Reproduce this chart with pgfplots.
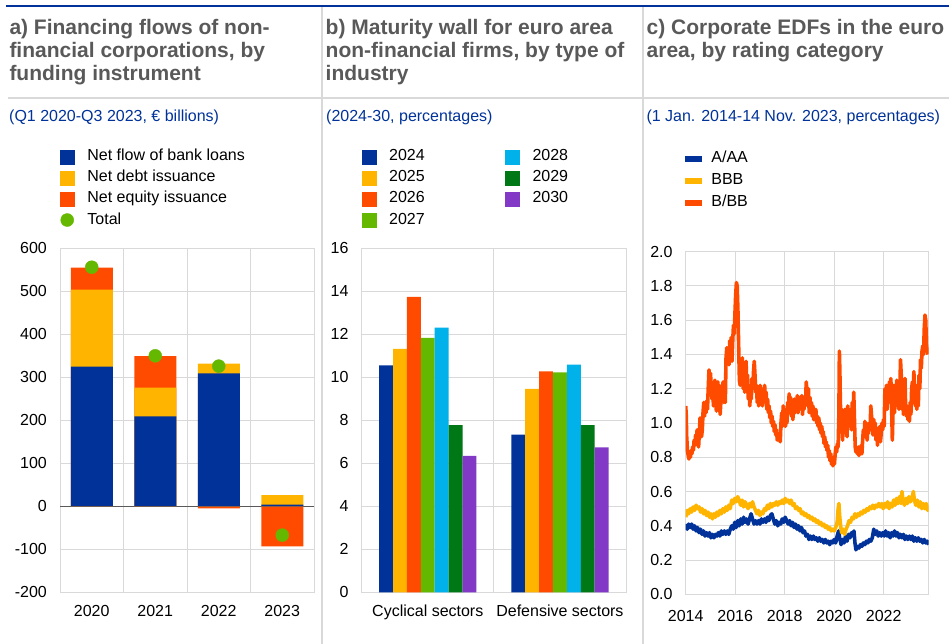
\documentclass[border=0pt]{standalone}
\usepackage{pgfplots}
\pgfplotsset{compat=1.18}
\usepackage{pgfplotstable}
\usepackage{fontspec}
\setmainfont{Liberation Sans}

\definecolor{ecbblue}{HTML}{003299}
\definecolor{ecbyellow}{HTML}{FFB400}
\definecolor{ecbred}{HTML}{FF4B00}
\definecolor{ecbgreen}{HTML}{65B800}
\definecolor{ecbcyan}{HTML}{00B1EA}
\definecolor{ecbdkgreen}{HTML}{007816}
\definecolor{ecbpurple}{HTML}{8139C6}
\definecolor{gridgray}{HTML}{D9D9D9}
\definecolor{titlegray}{HTML}{595959}
\definecolor{zerogray}{HTML}{595959}

\pgfplotstableread{
x y
2014.00 1.10
2014.02 1.05
2014.04 0.92
2014.07 0.84
2014.10 0.81
2014.13 0.79
2014.16 0.82
2014.19 0.80
2014.22 0.84
2014.25 0.82
2014.28 0.86
2014.31 0.84
2014.34 0.90
2014.37 0.87
2014.40 0.93
2014.43 0.88
2014.46 0.96
2014.49 0.90
2014.52 0.86
2014.55 0.94
2014.58 1.03
2014.61 0.97
2014.64 0.92
2014.67 0.96
2014.70 1.06
2014.73 1.12
2014.76 1.04
2014.79 1.10
2014.82 1.06
2014.85 1.13
2014.88 1.08
2014.91 1.20
2014.94 1.31
2014.97 1.27
2015.00 1.29
2015.03 1.22
2015.06 1.14
2015.09 1.22
2015.12 1.10
2015.15 1.18
2015.18 1.25
2015.21 1.12
2015.24 1.07
2015.27 1.18
2015.30 1.24
2015.33 1.10
2015.36 1.20
2015.39 1.05
2015.42 1.12
2015.45 1.22
2015.48 1.14
2015.51 1.24
2015.54 1.12
2015.57 1.18
2015.60 1.12
2015.63 1.38
2015.66 1.44
2015.69 1.36
2015.72 1.42
2015.75 1.34
2015.78 1.48
2015.81 1.40
2015.84 1.50
2015.87 1.36
2015.90 1.48
2015.93 1.57
2015.96 1.52
2015.99 1.64
2016.02 1.75
2016.05 1.82
2016.08 1.80
2016.11 1.66
2016.14 1.45
2016.17 1.25
2016.20 1.22
2016.23 1.36
2016.26 1.28
2016.29 1.38
2016.32 1.20
2016.35 1.34
2016.38 1.18
2016.41 1.30
2016.44 1.36
2016.47 1.18
2016.50 1.28
2016.53 1.14
2016.56 1.22
2016.59 1.10
2016.62 1.20
2016.65 1.14
2016.68 1.26
2016.71 1.20
2016.74 1.30
2016.77 1.36
2016.80 1.28
2016.83 1.18
2016.86 1.22
2016.89 1.12
2016.92 1.20
2016.95 1.10
2016.98 1.16
2017.01 1.22
2017.04 1.12
2017.07 1.18
2017.10 1.10
2017.13 1.20
2017.16 1.14
2017.19 1.22
2017.22 1.12
2017.25 1.18
2017.28 1.08
2017.31 1.14
2017.34 1.06
2017.37 1.10
2017.40 1.03
2017.43 1.07
2017.46 1.00
2017.49 1.04
2017.52 0.98
2017.55 1.01
2017.58 0.95
2017.61 0.99
2017.64 0.93
2017.67 0.96
2017.70 0.90
2017.73 0.93
2017.76 0.90
2017.79 0.92
2017.82 0.89
2017.85 1.00
2017.88 1.06
2017.91 0.98
2017.94 1.10
2017.97 1.02
2018.00 1.08
2018.03 0.98
2018.06 1.06
2018.09 1.00
2018.12 1.12
2018.15 1.08
2018.18 1.17
2018.21 1.10
2018.24 1.15
2018.27 1.04
2018.30 1.12
2018.33 1.02
2018.36 1.10
2018.39 1.14
2018.42 1.06
2018.45 1.12
2018.48 1.08
2018.51 1.16
2018.54 1.06
2018.57 1.12
2018.60 1.08
2018.63 1.15
2018.66 1.10
2018.69 1.16
2018.72 1.05
2018.75 1.12
2018.78 1.08
2018.81 1.14
2018.84 1.10
2018.87 1.24
2018.90 1.18
2018.93 1.12
2018.96 1.20
2018.99 1.06
2019.02 1.15
2019.05 1.08
2019.08 1.12
2019.11 1.04
2019.14 1.10
2019.17 1.02
2019.20 1.07
2019.23 1.03
2019.26 1.08
2019.29 1.00
2019.32 1.04
2019.35 0.98
2019.38 1.03
2019.41 0.96
2019.44 1.00
2019.47 0.94
2019.50 0.98
2019.53 0.92
2019.56 0.95
2019.59 0.88
2019.62 0.92
2019.65 0.86
2019.68 0.89
2019.71 0.84
2019.74 0.87
2019.77 0.80
2019.80 0.84
2019.83 0.78
2019.86 0.82
2019.89 0.76
2019.92 0.80
2019.95 0.75
2019.98 0.78
2020.01 0.76
2020.04 0.82
2020.07 0.86
2020.10 0.83
2020.13 0.88
2020.16 0.86
2020.19 1.05
2020.21 1.42
2020.23 1.30
2020.25 1.12
2020.28 0.98
2020.31 1.08
2020.34 0.90
2020.37 1.04
2020.40 0.94
2020.43 1.08
2020.46 0.96
2020.49 1.05
2020.52 0.92
2020.55 1.10
2020.58 0.98
2020.61 1.06
2020.64 1.00
2020.67 1.08
2020.70 0.96
2020.73 1.12
2020.76 1.00
2020.79 1.18
2020.82 1.02
2020.85 0.86
2020.88 0.83
2020.91 0.85
2020.94 0.82
2020.97 0.86
2021.00 0.81
2021.03 0.85
2021.06 0.83
2021.09 0.87
2021.12 0.82
2021.15 0.90
2021.18 0.96
2021.21 0.92
2021.24 1.01
2021.27 0.94
2021.30 1.00
2021.33 0.90
2021.36 0.98
2021.39 0.94
2021.42 1.00
2021.45 0.96
2021.48 1.10
2021.51 1.04
2021.54 1.00
2021.57 0.93
2021.60 1.02
2021.63 0.96
2021.66 1.00
2021.69 0.90
2021.72 0.97
2021.75 0.87
2021.78 0.95
2021.81 0.92
2021.84 0.98
2021.87 0.89
2021.90 0.94
2021.93 1.00
2021.96 0.96
2021.99 1.02
2022.02 0.98
2022.05 1.20
2022.08 1.12
2022.11 1.22
2022.14 1.08
2022.17 1.20
2022.20 1.12
2022.23 1.24
2022.26 1.16
2022.29 1.26
2022.32 1.10
2022.35 0.90
2022.38 1.08
2022.41 1.22
2022.44 1.06
2022.47 1.18
2022.50 1.10
2022.53 1.25
2022.56 1.12
2022.59 1.22
2022.62 1.08
2022.65 1.15
2022.68 1.37
2022.71 1.28
2022.74 1.08
2022.77 1.20
2022.80 1.05
2022.83 1.12
2022.86 1.26
2022.89 1.08
2022.92 1.04
2022.95 1.10
2022.98 1.02
2023.01 1.06
2023.04 1.01
2023.07 1.12
2023.10 1.05
2023.13 1.20
2023.16 1.24
2023.19 1.12
2023.22 1.30
2023.25 1.18
2023.28 1.10
2023.31 1.22
2023.34 1.08
2023.37 1.15
2023.40 1.10
2023.43 1.28
2023.46 1.20
2023.49 1.37
2023.52 1.32
2023.55 1.42
2023.58 1.45
2023.61 1.40
2023.64 1.55
2023.67 1.63
2023.70 1.60
2023.73 1.45
2023.76 1.42
2023.79 1.40
}\tblBB

\pgfplotstableread{
x y
2014.00 0.45
2014.06 0.49
2014.12 0.47
2014.18 0.50
2014.24 0.48
2014.30 0.51
2014.36 0.49
2014.42 0.52
2014.48 0.50
2014.54 0.51
2014.60 0.48
2014.66 0.50
2014.72 0.47
2014.78 0.49
2014.84 0.46
2014.90 0.48
2014.96 0.45
2015.02 0.47
2015.08 0.44
2015.14 0.47
2015.20 0.45
2015.26 0.48
2015.32 0.46
2015.38 0.49
2015.44 0.47
2015.50 0.50
2015.56 0.48
2015.62 0.51
2015.68 0.49
2015.74 0.52
2015.80 0.50
2015.86 0.55
2015.92 0.53
2015.98 0.56
2016.04 0.54
2016.10 0.57
2016.16 0.55
2016.22 0.52
2016.28 0.55
2016.34 0.51
2016.40 0.54
2016.46 0.52
2016.52 0.50
2016.58 0.53
2016.64 0.51
2016.70 0.54
2016.76 0.51
2016.82 0.49
2016.88 0.47
2016.94 0.49
2017.00 0.46
2017.06 0.48
2017.12 0.47
2017.18 0.50
2017.24 0.49
2017.30 0.52
2017.36 0.50
2017.42 0.53
2017.48 0.51
2017.54 0.53
2017.60 0.52
2017.66 0.54
2017.72 0.52
2017.78 0.54
2017.84 0.53
2017.90 0.55
2017.96 0.53
2018.02 0.56
2018.08 0.54
2018.14 0.55
2018.20 0.53
2018.26 0.55
2018.32 0.52
2018.38 0.53
2018.44 0.50
2018.50 0.51
2018.56 0.49
2018.62 0.50
2018.68 0.47
2018.74 0.48
2018.80 0.46
2018.86 0.47
2018.92 0.45
2018.98 0.46
2019.04 0.44
2019.10 0.45
2019.16 0.43
2019.22 0.44
2019.28 0.42
2019.34 0.43
2019.40 0.41
2019.46 0.42
2019.52 0.40
2019.58 0.41
2019.64 0.39
2019.70 0.40
2019.76 0.38
2019.82 0.39
2019.88 0.37
2019.94 0.38
2020.00 0.37
2020.06 0.39
2020.12 0.42
2020.16 0.50
2020.19 0.53
2020.22 0.46
2020.26 0.40
2020.30 0.36
2020.36 0.38
2020.42 0.35
2020.48 0.38
2020.54 0.40
2020.60 0.43
2020.66 0.42
2020.72 0.45
2020.78 0.44
2020.84 0.47
2020.90 0.45
2020.96 0.47
2021.02 0.46
2021.08 0.48
2021.14 0.47
2021.20 0.49
2021.26 0.48
2021.32 0.50
2021.38 0.49
2021.44 0.51
2021.50 0.50
2021.56 0.52
2021.62 0.50
2021.68 0.52
2021.74 0.51
2021.80 0.53
2021.86 0.51
2021.92 0.53
2021.98 0.50
2022.04 0.53
2022.10 0.51
2022.16 0.54
2022.22 0.50
2022.28 0.53
2022.34 0.51
2022.40 0.55
2022.46 0.52
2022.52 0.56
2022.58 0.53
2022.64 0.57
2022.70 0.53
2022.74 0.60
2022.78 0.55
2022.84 0.52
2022.90 0.56
2022.96 0.53
2023.02 0.57
2023.08 0.54
2023.14 0.56
2023.20 0.60
2023.24 0.55
2023.30 0.52
2023.36 0.55
2023.42 0.51
2023.48 0.54
2023.54 0.50
2023.60 0.53
2023.66 0.50
2023.72 0.53
2023.78 0.49
2023.82 0.51
}\tblBBB

\pgfplotstableread{
x y
2014.00 0.41
2014.06 0.38
2014.12 0.41
2014.18 0.39
2014.24 0.41
2014.30 0.38
2014.36 0.40
2014.42 0.37
2014.48 0.39
2014.54 0.36
2014.60 0.38
2014.66 0.35
2014.72 0.37
2014.78 0.34
2014.84 0.36
2014.90 0.34
2014.96 0.36
2015.02 0.33
2015.08 0.35
2015.14 0.33
2015.20 0.35
2015.26 0.34
2015.32 0.36
2015.38 0.34
2015.44 0.37
2015.50 0.35
2015.56 0.37
2015.62 0.35
2015.68 0.37
2015.74 0.35
2015.80 0.38
2015.86 0.40
2015.92 0.38
2015.98 0.42
2016.04 0.39
2016.10 0.43
2016.16 0.40
2016.22 0.44
2016.28 0.41
2016.34 0.45
2016.40 0.42
2016.46 0.44
2016.52 0.41
2016.58 0.44
2016.64 0.47
2016.70 0.44
2016.76 0.41
2016.82 0.43
2016.88 0.41
2016.94 0.43
2017.00 0.41
2017.06 0.44
2017.12 0.42
2017.18 0.44
2017.24 0.42
2017.30 0.45
2017.36 0.43
2017.42 0.46
2017.48 0.47
2017.54 0.44
2017.60 0.41
2017.66 0.43
2017.72 0.40
2017.78 0.42
2017.84 0.41
2017.90 0.44
2017.96 0.42
2018.02 0.45
2018.08 0.43
2018.14 0.41
2018.20 0.43
2018.26 0.40
2018.32 0.42
2018.38 0.39
2018.44 0.41
2018.50 0.38
2018.56 0.40
2018.62 0.37
2018.68 0.39
2018.74 0.36
2018.80 0.37
2018.86 0.34
2018.92 0.35
2018.98 0.32
2019.04 0.34
2019.10 0.32
2019.16 0.34
2019.22 0.32
2019.28 0.33
2019.34 0.31
2019.40 0.33
2019.46 0.31
2019.52 0.32
2019.58 0.30
2019.64 0.32
2019.70 0.30
2019.76 0.31
2019.82 0.29
2019.88 0.31
2019.94 0.30
2020.00 0.32
2020.06 0.30
2020.12 0.34
2020.18 0.37
2020.22 0.33
2020.28 0.29
2020.34 0.32
2020.40 0.30
2020.46 0.34
2020.52 0.31
2020.58 0.35
2020.64 0.33
2020.70 0.36
2020.76 0.34
2020.80 0.37
2020.84 0.30
2020.88 0.26
2020.94 0.28
2021.00 0.27
2021.06 0.29
2021.12 0.28
2021.18 0.30
2021.24 0.29
2021.30 0.31
2021.36 0.30
2021.42 0.32
2021.48 0.31
2021.54 0.33
2021.60 0.38
2021.66 0.35
2021.72 0.37
2021.78 0.34
2021.84 0.36
2021.90 0.34
2021.96 0.36
2022.02 0.34
2022.08 0.37
2022.14 0.34
2022.20 0.36
2022.26 0.33
2022.32 0.36
2022.38 0.34
2022.44 0.37
2022.50 0.34
2022.56 0.36
2022.62 0.33
2022.68 0.35
2022.74 0.33
2022.80 0.35
2022.86 0.32
2022.92 0.34
2022.98 0.32
2023.04 0.34
2023.10 0.32
2023.16 0.34
2023.22 0.31
2023.28 0.33
2023.34 0.31
2023.40 0.33
2023.46 0.31
2023.52 0.32
2023.58 0.30
2023.64 0.32
2023.70 0.30
2023.76 0.31
2023.82 0.29
}\tblAAA

\pgfplotsset{
  ecb/.style={
    scale only axis,
    anchor=south west,
    axis line style={draw=gridgray, line width=1pt},
    grid style={draw=gridgray, line width=1pt},
    major tick length=0pt, minor tick length=0pt,
    tick label style={font=\fontsize{16}{19}\selectfont, text=black},
    yticklabel style={inner sep=0pt, xshift=-13pt},
    xticklabel style={inner sep=0pt, yshift=-12.5pt},
    ymajorgrids,
    scaled ticks=false,
    legend cell align=left,
  },
  ecblegend/.style={
    legend style={anchor=north west, draw=none, fill=none, inner sep=0pt, outer sep=0pt,
      font=\fontsize{16}{19}\selectfont, text=black,
      nodes={inner sep=0pt, text height=12pt, text depth=4pt},
      /tikz/every odd column/.append style={column sep=13pt}},
  },
}

\begin{document}
\begin{tikzpicture}
\path[use as bounding box] (0pt,0pt) rectangle (949pt,-644pt);

% frame lines
\draw[ecbblue, line width=2.3pt] (6pt,-6.2pt) -- (949pt,-6.2pt);
\draw[gridgray, line width=2.5pt] (8pt,-98pt) -- (949pt,-98pt);
\draw[gridgray, line width=2pt] (322pt,-7.5pt) -- (322pt,-644pt);
\draw[gridgray, line width=2pt] (642.5pt,-7.5pt) -- (642.5pt,-644pt);

% titles
\begin{scope}[every node/.style={anchor=base west, inner sep=0pt, text=titlegray, font=\bfseries\fontsize{21}{24}\selectfont}]
\node at (9.3pt,-35pt) {a) Financing flows of non-};
\node at (9.3pt,-57.7pt) {financial corporations, by};
\node at (9.3pt,-80.4pt) {funding instrument};
\node at (325.5pt,-35pt) {b) Maturity wall for euro area};
\node at (325.5pt,-57.7pt) {non-financial firms, by type of};
\node at (325.5pt,-80.4pt) {industry};
\node at (646.5pt,-35pt) {c) Corporate EDFs in the euro};
\node at (646.5pt,-57.7pt) {area, by rating category};
\end{scope}
\begin{scope}[every node/.style={anchor=base west, inner sep=0pt, text=ecbblue, font=\fontsize{16}{19}\selectfont}]
\node at (9pt,-122pt) {(Q1 2020-Q3 2023, € billions)};
\node at (326pt,-122pt) {(2024-30, percentages)};
\node at (646.3pt,-122pt) {(1 Jan. 2014-14 Nov. 2023, percentages)};
\end{scope}

% ---------------- panel a
\begin{axis}[ecb, ecblegend, at={(60pt,-592.3pt)}, width=254pt, height=344pt,
  xmin=-0.5, xmax=3.5, ymin=-200, ymax=600,
  xtick={0,1,2,3}, xticklabels={2020,2021,2022,2023},
  minor xtick={0.5,1.5,2.5}, xminorgrids, xmajorgrids=false,
  ytick={-200,-100,0,100,200,300,400,500,600},
  yticklabels={-200,-100,0,100,200,300,400,500,600},
  extra y ticks={0}, extra y tick labels={},
  extra y tick style={grid style={draw=zerogray, line width=1.2pt}},
  legend style={at={(0,1.2895)}, row sep=5.1pt},
]
\addlegendimage{legend image code/.code={\fill[ecbblue] (0pt,-7pt) rectangle (14pt,7pt);}}
\addlegendentry{Net flow of bank loans}
\addlegendimage{legend image code/.code={\fill[ecbyellow] (0pt,-7pt) rectangle (14pt,7pt);}}
\addlegendentry{Net debt issuance}
\addlegendimage{legend image code/.code={\fill[ecbred] (0pt,-7pt) rectangle (14pt,7pt);}}
\addlegendentry{Net equity issuance}
\addlegendimage{legend image code/.code={\fill[ecbgreen] (7pt,0pt) circle (6.5pt);}}
\addlegendentry{Total}
% cumulative tops: equity (positive) / equity (negative) / debt / loans
\addplot[ybar, bar width=42pt, bar shift=0pt, fill=ecbred, draw=none, forget plot]
  coordinates {(0,555) (1,349)};
\addplot[ybar, bar width=42pt, bar shift=0pt, fill=ecbred, draw=none, forget plot]
  coordinates {(2,-5) (3,-93)};
\addplot[ybar, bar width=42pt, bar shift=0pt, fill=ecbyellow, draw=none, forget plot]
  coordinates {(0,504) (1,276) (2,332) (3,26)};
\addplot[ybar, bar width=42pt, bar shift=0pt, fill=ecbblue, draw=none, forget plot]
  coordinates {(0,325) (1,209) (2,309) (3,4)};
\addplot[color=ecbgreen, only marks, mark=*, mark size=6.5pt, mark options={draw=ecbgreen, fill=ecbgreen}, forget plot]
  coordinates {(0,556) (1,350) (2,326) (3,-67)};
\end{axis}

% ---------------- panel b
\begin{axis}[ecb, ecblegend, at={(361.7pt,-592.3pt)}, width=264.3pt, height=344pt,
  xmin=-0.5, xmax=1.5, ymin=0, ymax=16,
  xtick={0,1}, xticklabels={Cyclical sectors,Defensive sectors},
  minor xtick={0.5}, xminorgrids, xmajorgrids=false,
  ytick={0,2,4,6,8,10,12,14,16},
  yticklabels={0,2,4,6,8,10,12,14,16},
  legend columns=2,
  legend style={at={(0,1.2895)}, row sep=5.1pt,
    /tikz/every even column/.append style={column sep=80.4pt}},
]
\addlegendimage{legend image code/.code={\fill[ecbblue] (0pt,-7pt) rectangle (14pt,7pt);}}
\addlegendentry{2024}
\addlegendimage{legend image code/.code={\fill[ecbcyan] (0pt,-7pt) rectangle (14pt,7pt);}}
\addlegendentry{2028}
\addlegendimage{legend image code/.code={\fill[ecbyellow] (0pt,-7pt) rectangle (14pt,7pt);}}
\addlegendentry{2025}
\addlegendimage{legend image code/.code={\fill[ecbdkgreen] (0pt,-7pt) rectangle (14pt,7pt);}}
\addlegendentry{2029}
\addlegendimage{legend image code/.code={\fill[ecbred] (0pt,-7pt) rectangle (14pt,7pt);}}
\addlegendentry{2026}
\addlegendimage{legend image code/.code={\fill[ecbpurple] (0pt,-7pt) rectangle (14pt,7pt);}}
\addlegendentry{2030}
\addlegendimage{legend image code/.code={\fill[ecbgreen] (0pt,-7pt) rectangle (14pt,7pt);}}
\addlegendentry{2027}
\addplot[ybar, bar width=13.9pt, bar shift=-41.7pt, fill=ecbblue, draw=none, forget plot]
  coordinates {(0,10.56) (1,7.33)};
\addplot[ybar, bar width=13.9pt, bar shift=-27.8pt, fill=ecbyellow, draw=none, forget plot]
  coordinates {(0,11.32) (1,9.46)};
\addplot[ybar, bar width=13.9pt, bar shift=-13.9pt, fill=ecbred, draw=none, forget plot]
  coordinates {(0,13.74) (1,10.28)};
\addplot[ybar, bar width=13.9pt, bar shift=0pt, fill=ecbgreen, draw=none, forget plot]
  coordinates {(0,11.83) (1,10.23)};
\addplot[ybar, bar width=13.9pt, bar shift=13.9pt, fill=ecbcyan, draw=none, forget plot]
  coordinates {(0,12.31) (1,10.59)};
\addplot[ybar, bar width=13.9pt, bar shift=27.8pt, fill=ecbdkgreen, draw=none, forget plot]
  coordinates {(0,7.77) (1,7.77)};
\addplot[ybar, bar width=13.9pt, bar shift=41.7pt, fill=ecbpurple, draw=none, forget plot]
  coordinates {(0,6.34) (1,6.74)};
\end{axis}

% ---------------- panel c
\begin{axis}[ecb, ecblegend, at={(685.7pt,-594.3pt)}, width=243pt, height=342.6pt,
  xmin=2014, xmax=2023.82, ymin=0, ymax=2,
  xtick={2014,2016,2018,2020,2022}, xticklabels={2014,2016,2018,2020,2022},
  xmajorgrids,
  xticklabel style={yshift=-3pt},
  ytick={0,0.2,0.4,0.6,0.8,1.0,1.2,1.4,1.6,1.8,2.0},
  yticklabels={0.0,0.2,0.4,0.6,0.8,1.0,1.2,1.4,1.6,1.8,2.0},
  legend style={at={(-0.003,1.294)}, row sep=5.7pt,
    /tikz/every odd column/.append style={column sep=10pt}},
]
\addlegendimage{legend image code/.code={\fill[ecbblue] (0pt,-2.5pt) rectangle (16pt,2.5pt);}}
\addlegendentry{A/AA}
\addlegendimage{legend image code/.code={\fill[ecbyellow] (0pt,-2.5pt) rectangle (16pt,2.5pt);}}
\addlegendentry{BBB}
\addlegendimage{legend image code/.code={\fill[ecbred] (0pt,-2.5pt) rectangle (16pt,2.5pt);}}
\addlegendentry{B/BB}
\addplot[ecbblue, line width=3.6pt, line join=round, forget plot] table[x=x,y=y] {\tblAAA};
\addplot[ecbyellow, line width=3.6pt, line join=round, forget plot] table[x=x,y=y] {\tblBBB};
\addplot[ecbred, line width=3.6pt, line join=round, forget plot] table[x=x,y=y] {\tblBB};
\end{axis}
\end{tikzpicture}
\end{document}
